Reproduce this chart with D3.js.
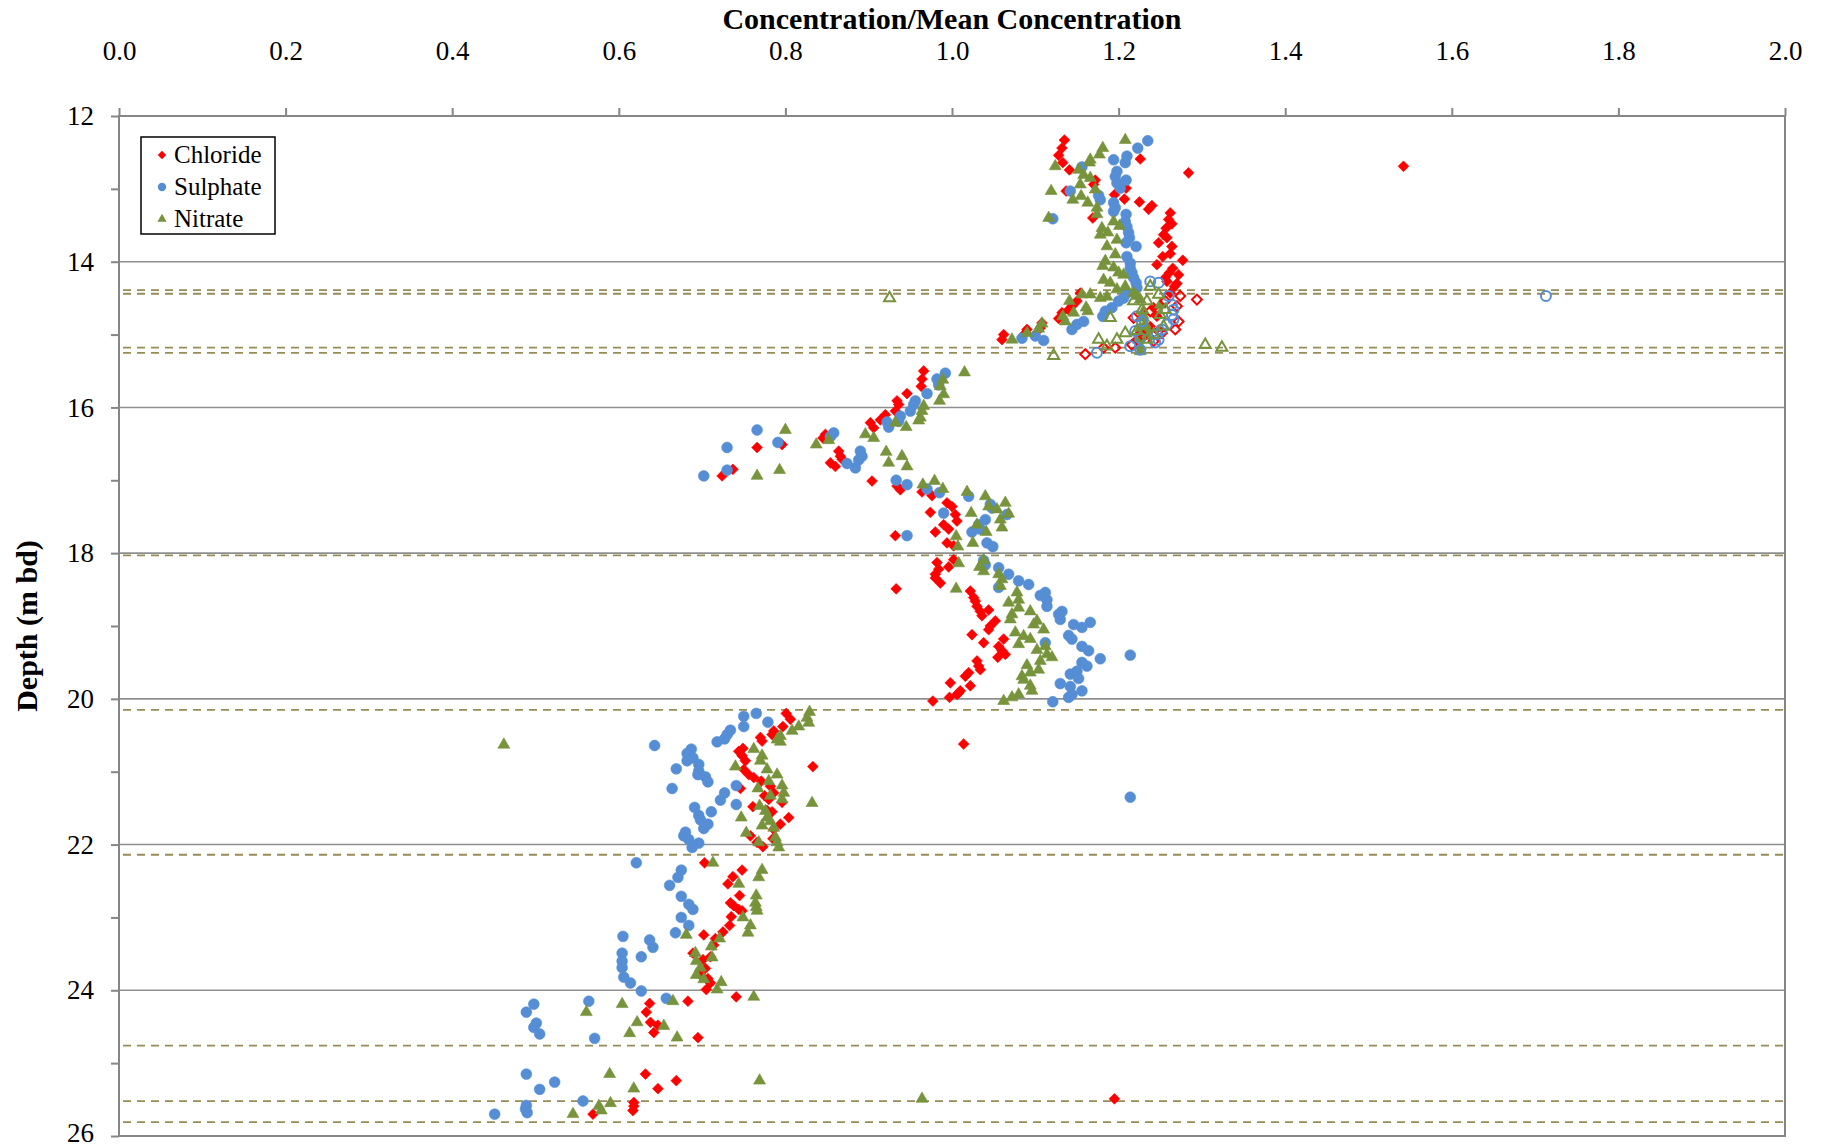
<!DOCTYPE html>
<html>
<head>
<meta charset="utf-8">
<script src="https://cdn.jsdelivr.net/npm/d3@7"></script>
<style>
  body { margin: 0; background: #fff; }
  svg text { font-family: "Liberation Serif", "Times New Roman", serif; fill: #000; }
</style>
</head>
<body>
<div id="chart"></div>
<script>
// 坐标轴刻度
const xTicks = [0.0, 0.2, 0.4, 0.6, 0.8, 1.0, 1.2, 1.4, 1.6, 1.8, 2.0];
const yTicks = [12, 14, 16, 18, 20, 22, 24, 26];
const yMinorTicks = [13, 15, 17, 19, 21, 23, 25];
// 虚线（层位）深度
const markerDepths = [14.39, 14.44, 15.18, 15.25, 18.03, 20.15, 22.14, 24.76, 25.52, 25.81];

// [浓度/平均浓度, 深度]
const chloride = [
  [1.135,12.33],[1.132,12.44],[1.128,12.54],[1.133,12.64],[1.141,12.74],[1.226,12.59],[1.284,12.78],[1.542,12.69],
  [1.172,12.88],[1.170,12.94],[1.137,13.03],[1.209,12.99],[1.195,13.08],[1.207,13.14],[1.225,13.18],[1.236,13.28],
  [1.240,13.23],[1.169,13.40],[1.262,13.33],[1.260,13.42],[1.264,13.48],[1.257,13.54],[1.254,13.63],[1.258,13.67],
  [1.248,13.74],[1.264,13.79],[1.262,13.89],[1.253,13.93],[1.277,13.98],[1.246,14.04],[1.265,14.09],[1.261,14.15],
  [1.256,14.22],[1.272,14.18],[1.258,14.27],[1.270,14.30],[1.267,14.34],[1.262,14.43],
  [1.242,14.63],[1.246,14.75],[1.238,14.89],[1.226,14.98],[1.222,15.07],
  [1.154,14.43],[1.150,14.54],[1.144,14.61],[1.140,14.66],[1.132,14.70],[1.128,14.78],[1.108,14.84],[1.106,14.91],
  [1.090,14.93],[1.088,14.98],[1.062,15.00],[1.060,15.07],
  [0.966,15.50],[0.964,15.61],[0.963,15.71],[0.946,15.81],[0.934,15.91],[0.936,15.96],[0.932,16.05],[0.920,16.10],
  [0.914,16.17],[0.902,16.21],[0.906,16.28],[0.848,16.37],[0.845,16.42],[0.796,16.51],[0.766,16.55],[0.864,16.60],
  [0.866,16.67],[0.868,16.71],[0.854,16.76],[0.860,16.81],[0.737,16.85],[0.724,16.94],[0.904,17.01],[0.934,17.08],
  [0.938,17.13],[0.964,17.16],[0.976,17.21],[0.994,17.31],[1.000,17.36],[0.974,17.44],[1.004,17.47],[1.006,17.56],
  [0.990,17.61],[0.996,17.67],[0.980,17.71],[0.932,17.76],[0.994,17.86],[1.002,17.90],[1.002,18.09],[0.982,18.13],
  [0.996,18.19],[0.984,18.22],[0.980,18.29],[0.980,18.34],[0.986,18.41],[0.933,18.49],[1.022,18.52],[1.026,18.61],
  [1.028,18.66],[1.030,18.73],[1.034,18.80],[1.044,18.78],[1.036,18.86],[1.052,18.93],[1.046,19.00],[1.044,19.05],
  [1.024,19.12],[1.062,19.18],[1.038,19.23],[1.056,19.28],[1.060,19.34],[1.064,19.39],[1.055,19.43],[1.030,19.48],
  [1.032,19.55],[1.034,19.60],[1.020,19.64],[1.016,19.69],[0.998,19.78],[1.022,19.82],[1.010,19.89],[1.006,19.94],
  [0.997,19.98],[0.977,20.03],[1.008,19.92],[1.014,20.62],
  [0.801,20.20],[0.806,20.28],[0.797,20.38],[0.786,20.44],[0.784,20.49],[0.770,20.53],[0.772,20.58],[0.749,20.68],
  [0.744,20.72],[0.748,20.78],[0.752,20.85],[0.833,20.93],[0.750,20.97],[0.756,21.04],[0.762,21.08],[0.771,21.13],
  [0.782,21.20],[0.746,21.23],[0.786,21.29],[0.775,21.33],[0.780,21.38],[0.796,21.42],[0.761,21.48],[0.778,21.53],
  [0.784,21.55],[0.804,21.63],[0.794,21.72],[0.786,21.79],[0.758,21.88],[0.785,21.92],[0.766,21.97],[0.773,22.03],
  [0.703,22.25],[0.748,22.35],[0.737,22.44],[0.731,22.54],[0.745,22.70],[0.734,22.80],[0.738,22.84],[0.744,22.89],
  [0.748,22.91],[0.735,22.99],[0.733,23.11],[0.725,23.20],[0.702,23.24],[0.716,23.29],[0.714,23.38],[0.689,23.49],
  [0.710,23.54],[0.701,23.58],[0.704,23.70],[0.698,23.79],[0.707,23.84],[0.710,23.90],[0.705,23.99],[0.741,24.09],
  [0.683,24.15],[0.637,24.18],[0.633,24.30],[0.638,24.44],[0.647,24.48],[0.642,24.58],[0.695,24.65],
  [0.632,25.15],[0.669,25.24],[0.647,25.35],[0.618,25.54],[0.618,25.59],[0.617,25.65],[0.569,25.70],[1.195,25.49]
];
const sulphate = [
  [1.235,12.34],[1.223,12.44],[1.210,12.55],[1.208,12.64],[1.194,12.60],[1.156,12.70],[1.198,12.76],[1.196,12.83],
  [1.209,12.88],[1.198,12.92],[1.202,12.99],[1.142,13.03],[1.176,13.09],[1.178,13.15],[1.194,13.19],[1.196,13.26],
  [1.194,13.31],[1.121,13.41],[1.209,13.35],[1.208,13.45],[1.210,13.52],[1.212,13.60],[1.213,13.67],[1.209,13.74],
  [1.221,13.79],[1.210,13.93],[1.214,14.02],[1.214,14.09],[1.216,14.15],[1.218,14.22],[1.221,14.29],[1.222,14.36],
  [1.210,14.43],[1.206,14.50],[1.200,14.54],[1.192,14.63],[1.184,14.68],[1.181,14.75],[1.158,14.82],[1.150,14.86],
  [1.144,14.93],[1.110,15.08],[1.100,15.02],[1.084,15.05],
  [0.992,15.53],[0.982,15.61],[0.984,15.69],[0.970,15.81],[0.956,15.91],[0.954,15.96],[0.950,16.05],[0.938,16.12],
  [0.936,16.19],[0.922,16.20],[0.924,16.27],[0.766,16.31],[0.858,16.35],[0.854,16.40],[0.791,16.48],[0.730,16.55],
  [0.890,16.60],[0.892,16.67],[0.888,16.72],[0.874,16.77],[0.884,16.83],[0.730,16.86],[0.702,16.94],[0.933,17.00],
  [0.946,17.06],[0.970,17.12],[0.985,17.17],[1.020,17.22],[1.046,17.33],[1.048,17.38],[0.990,17.45],[1.066,17.47],
  [1.040,17.54],[1.032,17.61],[1.034,17.67],[1.024,17.71],[0.946,17.76],[1.042,17.86],[1.049,17.91],[1.038,18.10],
  [1.040,18.16],[1.056,18.20],[1.068,18.29],[1.080,18.38],[1.092,18.43],[1.056,18.47],[1.112,18.54],[1.106,18.58],
  [1.114,18.64],[1.114,18.73],[1.132,18.80],[1.128,18.84],[1.130,18.91],[1.166,18.95],[1.146,18.98],[1.156,19.02],
  [1.140,19.13],[1.144,19.18],[1.112,19.23],[1.156,19.28],[1.164,19.34],[1.214,19.40],[1.178,19.45],[1.156,19.50],
  [1.162,19.55],[1.150,19.62],[1.142,19.66],[1.152,19.72],[1.130,19.79],[1.142,19.83],[1.156,19.89],[1.144,19.94],
  [1.140,19.98],[1.121,20.04],
  [0.765,20.20],[0.750,20.24],[0.779,20.32],[0.750,20.38],[0.734,20.43],[0.730,20.49],[0.727,20.55],[0.718,20.59],
  [0.643,20.64],[0.687,20.69],[0.682,20.75],[0.689,20.81],[0.682,20.85],[0.696,20.90],[0.669,20.96],[0.696,20.99],
  [0.695,21.04],[0.704,21.07],[0.707,21.14],[0.741,21.19],[0.664,21.23],[0.727,21.29],[1.214,21.35],[0.722,21.39],
  [0.741,21.45],[0.691,21.49],[0.711,21.55],[0.696,21.60],[0.698,21.66],[0.707,21.72],[0.702,21.78],[0.680,21.83],
  [0.678,21.88],[0.684,21.93],[0.696,21.98],[0.688,22.04],
  [0.621,22.25],[0.675,22.35],[0.671,22.45],[0.661,22.56],[0.675,22.71],[0.684,22.82],[0.689,22.89],[0.675,23.00],
  [0.684,23.11],[0.668,23.21],[0.605,23.26],[0.637,23.31],[0.641,23.41],[0.604,23.49],[0.627,23.54],[0.604,23.60],
  [0.604,23.69],[0.606,23.82],[0.614,23.90],[0.627,24.01],[0.657,24.11],
  [0.498,24.19],[0.564,24.15],[0.489,24.30],[0.501,24.45],[0.498,24.51],[0.505,24.60],[0.571,24.66],[0.489,25.15],
  [0.523,25.26],[0.505,25.36],[0.557,25.52],[0.489,25.58],[0.488,25.63],[0.490,25.68],[0.451,25.70]
];
const nitrate = [
  [1.208,12.33],[1.181,12.44],[1.177,12.53],[1.166,12.60],[1.165,12.64],[1.124,12.69],[1.152,12.74],[1.158,12.81],
  [1.166,12.85],[1.154,12.94],[1.119,13.03],[1.172,13.01],[1.145,13.15],[1.155,13.10],[1.163,13.19],[1.174,13.26],
  [1.174,13.35],[1.116,13.40],[1.194,13.45],[1.201,13.51],[1.180,13.54],[1.178,13.63],[1.187,13.60],[1.198,13.70],
  [1.186,13.79],[1.196,13.90],[1.184,13.99],[1.181,14.06],[1.194,14.08],[1.200,14.15],[1.206,14.18],[1.182,14.25],
  [1.190,14.29],[1.208,14.34],[1.198,14.38],[1.166,14.45],[1.156,14.45],[1.178,14.50],[1.186,14.48],[1.141,14.54],
  [1.146,14.70],[1.161,14.63],[1.163,14.68],[1.133,14.75],[1.136,14.82],[1.108,14.85],[1.104,14.92],[1.090,14.98],
  [1.072,15.07],
  [1.218,14.43],[1.222,14.47],[1.226,14.52],[1.250,14.59],[1.230,14.68],[1.230,14.77],[1.232,14.86],[1.226,14.91],
  [1.234,14.93],[1.224,15.07],[1.226,15.16],[1.226,15.23],[1.229,14.73],[1.234,15.02],
  [1.015,15.52],[0.989,15.62],[0.986,15.71],[0.990,15.82],[0.985,15.91],[0.966,15.98],[0.964,16.05],[0.962,16.14],
  [0.960,16.18],[0.932,16.21],[0.945,16.27],[0.800,16.31],[0.896,16.37],[0.906,16.42],[0.852,16.45],[0.837,16.51],
  [0.921,16.61],[0.940,16.67],[0.924,16.76],[0.946,16.81],[0.793,16.86],[0.766,16.94],[0.979,17.01],[0.965,17.06],
  [0.989,17.12],[1.018,17.16],[1.040,17.22],[1.064,17.31],[1.044,17.36],[1.054,17.40],[1.023,17.45],[1.068,17.46],
  [1.058,17.54],[1.030,17.61],[1.060,17.65],[1.041,17.71],[1.005,17.77],[1.025,17.86],[1.007,17.91],[1.038,18.10],
  [1.008,18.14],[1.033,18.19],[1.038,18.25],[1.056,18.29],[1.060,18.36],[1.058,18.45],[1.005,18.49],[1.078,18.54],
  [1.080,18.64],[1.068,18.68],[1.080,18.75],[1.094,18.80],[1.072,18.84],[1.070,18.91],[1.102,18.93],[1.098,18.98],
  [1.110,19.05],[1.076,19.09],[1.086,19.14],[1.094,19.18],[1.080,19.25],[1.112,19.28],[1.102,19.33],[1.114,19.39],
  [1.120,19.43],[1.106,19.48],[1.090,19.54],[1.104,19.60],[1.094,19.64],[1.084,19.69],[1.086,19.74],[1.094,19.82],
  [1.096,19.89],[1.080,19.94],[1.072,19.98],[1.062,20.03],
  [0.829,20.18],[0.826,20.26],[0.828,20.33],[0.816,20.38],[0.808,20.44],[0.794,20.51],[0.790,20.56],[0.794,20.59],
  [0.462,20.63],[0.762,20.69],[0.772,20.78],[0.770,20.85],[0.740,20.93],[0.778,20.97],[0.790,21.04],[0.780,21.13],
  [0.796,21.19],[0.767,21.23],[0.798,21.29],[0.782,21.33],[0.796,21.38],[0.832,21.43],[0.769,21.47],[0.776,21.54],
  [0.747,21.63],[0.778,21.63],[0.782,21.68],[0.772,21.74],[0.786,21.77],[0.753,21.84],[0.788,21.90],[0.790,21.97],
  [0.768,21.97],[0.792,22.04],
  [0.713,22.25],[0.772,22.35],[0.768,22.45],[0.744,22.54],[0.765,22.70],[0.764,22.80],[0.765,22.86],[0.766,22.91],
  [0.749,23.00],[0.758,23.11],[0.755,23.21],[0.681,23.24],[0.721,23.29],[0.711,23.40],[0.692,23.49],[0.712,23.55],
  [0.693,23.60],[0.698,23.69],[0.693,23.79],[0.702,23.85],[0.723,23.89],[0.718,23.99],[0.762,24.09],[0.665,24.15],
  [0.604,24.19],[0.561,24.30],[0.622,24.44],[0.654,24.49],[0.613,24.59],[0.670,24.65],[0.589,25.15],[0.769,25.24],
  [0.618,25.35],[0.964,25.49],[0.590,25.55],[0.576,25.59],[0.579,25.65],[0.545,25.70]
];
// 空心标记（14.4 - 15.25 m 层段）
const chlorideOpen = [
  [1.274,14.47],[1.294,14.52],[1.270,14.61],[1.272,14.82],[1.268,14.93],[1.252,14.98],[1.242,15.09],[1.230,15.02],
  [1.216,15.14],[1.196,15.18],[1.182,15.18],[1.160,15.27],[1.218,14.77],[1.238,14.68],[1.248,14.95],[1.256,14.54]
];
const sulphateOpen = [
  [1.238,14.27],[1.248,14.29],[1.260,14.47],[1.264,14.59],[1.266,14.66],[1.264,14.73],[1.266,14.79],[1.258,14.86],
  [1.252,14.93],[1.246,15.00],[1.248,15.07],[1.244,15.11],[1.222,14.75],[1.228,14.82],[1.220,14.95],[1.226,15.05],
  [1.214,15.16],[1.226,15.21],[1.174,15.25],[1.713,14.47]
];
const nitrateOpen = [
  [1.238,14.34],[1.248,14.45],[1.256,14.66],[1.254,14.89],[1.228,14.66],[1.234,14.54],[1.218,14.54],[1.208,14.98],
  [1.222,14.95],[1.198,15.07],[1.186,15.16],[1.176,15.07],[1.304,15.14],[1.324,15.18],[1.122,15.29],[1.190,14.77],
  [1.250,14.73],[1.242,15.00],[1.234,15.07],[0.925,14.50]
];

const width = 1823, height = 1147;
const plot = { left: 119, right: 1785, top: 116, bottom: 1136 };
const axisColor = '#868686';
const dashColor = '#958c58';
const serif = '"Liberation Serif", "Times New Roman", serif';
const colors = { chloride: '#ff0000', sulphate: '#558ed5', nitrate: '#77933c' };

const svg = d3.select('#chart').append('svg')
  .attr('width', width)
  .attr('height', height);

const x = d3.scaleLinear().domain([0, 2]).range([plot.left, plot.right]);
const y = d3.scaleLinear().domain([12, 26]).range([plot.top, plot.bottom]);

// 水平网格线
svg.append('g')
  .selectAll('line')
  .data(yTicks.slice(1, -1))
  .enter()
  .append('line')
  .attr('x1', plot.left).attr('x2', plot.right)
  .attr('y1', d => y(d)).attr('y2', d => y(d))
  .attr('stroke', '#8f8f8f')
  .attr('stroke-width', 1.6);

// 层位虚线
svg.append('g')
  .selectAll('line')
  .data(markerDepths)
  .enter()
  .append('line')
  .attr('x1', plot.left + 4).attr('x2', plot.right)
  .attr('y1', d => y(d)).attr('y2', d => y(d))
  .attr('stroke', dashColor)
  .attr('stroke-width', 1.8)
  .attr('stroke-dasharray', '8,6');

// 绘图区边框
svg.append('rect')
  .attr('x', plot.left).attr('y', plot.top)
  .attr('width', plot.right - plot.left)
  .attr('height', plot.bottom - plot.top)
  .attr('fill', 'none')
  .attr('stroke', axisColor)
  .attr('stroke-width', 2);

// 顶部 x 轴
const xAxis = svg.append('g')
  .attr('transform', `translate(0,${plot.top})`)
  .call(d3.axisTop(x).tickValues(xTicks).tickFormat(d3.format('.1f')).tickSize(8).tickPadding(48));
// 左侧 y 轴
const yAxis = svg.append('g')
  .attr('transform', `translate(${plot.left},0)`)
  .call(d3.axisLeft(y).tickValues(yTicks).tickSize(8).tickPadding(17));
const yMinor = svg.append('g')
  .attr('transform', `translate(${plot.left},0)`)
  .call(d3.axisLeft(y).tickValues(yMinorTicks).tickFormat('').tickSize(8));

[xAxis, yAxis, yMinor].forEach(g => {
  g.attr('font-family', null);
  g.select('.domain').remove();
  g.selectAll('line').attr('stroke', axisColor).attr('stroke-width', 2);
  g.selectAll('text')
    .style('font-family', serif)
    .style('font-size', '27px')
    .attr('fill', '#000');
});
// 最底部的 26 标签略微上移，避免被裁切
yAxis.selectAll('.tick text').filter(d => d === 26).attr('dy', '0.2em');

// 标题
svg.append('text')
  .attr('x', (plot.left + plot.right) / 2)
  .attr('y', 29)
  .attr('text-anchor', 'middle')
  .style('font-family', serif)
  .style('font-size', '30px')
  .style('font-weight', 'bold')
  .text('Concentration/Mean Concentration');

svg.append('text')
  .attr('transform', `translate(37,${(plot.top + plot.bottom) / 2}) rotate(-90)`)
  .attr('text-anchor', 'middle')
  .style('font-family', serif)
  .style('font-size', '30px')
  .style('font-weight', 'bold')
  .text('Depth (m bd)');

// 标记形状
const shapes = {
  chloride: { type: d3.symbolSquare, size: 58, rotate: 45 },
  sulphate: { type: d3.symbolCircle, size: 92, rotate: 0 },
  nitrate: { type: d3.symbolTriangle, size: 62, rotate: 0 }
};

function drawSeries(data, key, open) {
  const s = shapes[key];
  const path = d3.symbol().type(s.type).size(open ? s.size * 0.85 : s.size);
  svg.append('g')
    .selectAll('path')
    .data(data)
    .enter()
    .append('path')
    .attr('d', path)
    .attr('transform', d => `translate(${x(d[0])},${y(d[1])}) rotate(${s.rotate})`)
    .attr('fill', open ? 'none' : colors[key])
    .attr('stroke', colors[key])
    .attr('stroke-width', open ? 2 : 0.6);
}

drawSeries(chloride, 'chloride', false);
drawSeries(sulphate, 'sulphate', false);
drawSeries(nitrate, 'nitrate', false);
drawSeries(chlorideOpen, 'chloride', true);
drawSeries(sulphateOpen, 'sulphate', true);
drawSeries(nitrateOpen, 'nitrate', true);

// 图例
const legendItems = [
  { key: 'chloride', label: 'Chloride' },
  { key: 'sulphate', label: 'Sulphate' },
  { key: 'nitrate', label: 'Nitrate' }
];
const legend = svg.append('g');
legend.append('rect')
  .attr('x', 141).attr('y', 137)
  .attr('width', 134).attr('height', 97)
  .attr('fill', '#fff')
  .attr('stroke', '#000')
  .attr('stroke-width', 1.5);
legendItems.forEach((item, i) => {
  const cy = 155 + i * 32;
  const s = shapes[item.key];
  legend.append('path')
    .attr('d', d3.symbol().type(s.type).size(s.size * 0.6)())
    .attr('transform', `translate(162,${cy}) rotate(${s.rotate})`)
    .attr('fill', colors[item.key]);
  legend.append('text')
    .attr('x', 174)
    .attr('y', cy + 8)
    .style('font-family', serif)
    .style('font-size', '25px')
    .text(item.label);
});
</script>
</body>
</html>
